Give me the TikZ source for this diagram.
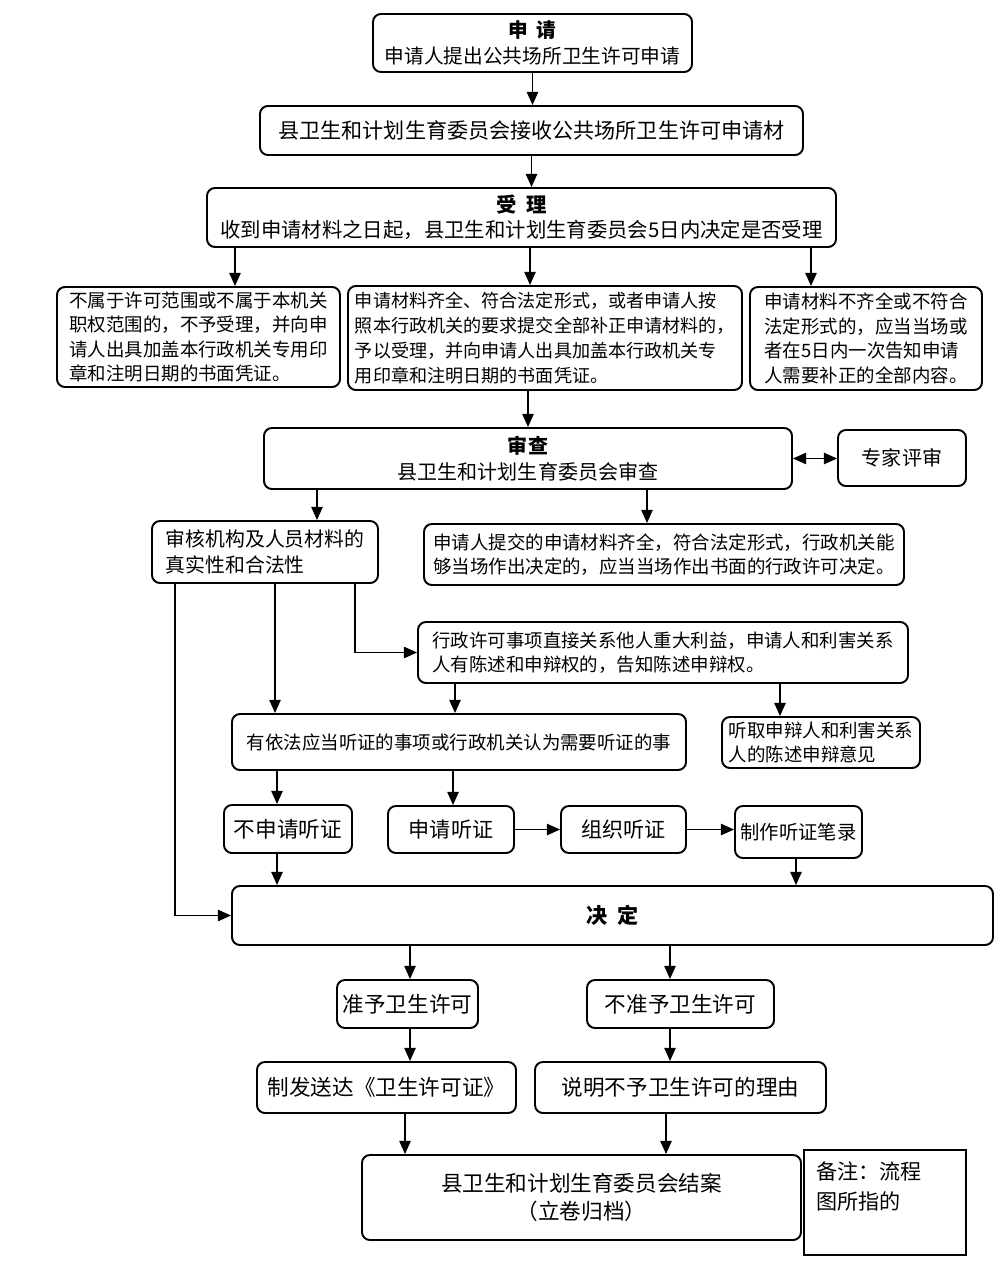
\documentclass[tikz,border=0pt]{standalone}
\usepackage{fontspec}
\setmainfont{Noto Sans CJK SC}
\usetikzlibrary{arrows.meta}
\newcommand\fsz[2]{\fontsize{#1}{#2}\selectfont}
\newcommand\mkbox[7][]{%
  \pgfmathsetmacro\bw{(#5-#3)*0.02}%
  \pgfmathsetmacro\bh{(#6-#4)*0.02}%
  \node[box, minimum width=\bw cm, minimum height=\bh cm, #1] (#2) at ({(#3+#5)/2},{(#4+#6)/2}) {#7};}
\tikzset{
  box/.style={draw, line width=1.1pt, rounded corners=4.5pt, inner sep=0pt, align=center, font=\fsz{12}{14.5}},
  para/.style={align=left, font=\fsz{10.5}{14}},
  arr/.style={line width=0.8pt, -{Triangle[length=7.5pt,width=6.5pt]}},
  darr/.style={line width=0.8pt, {Triangle[length=7.5pt,width=6.5pt]}-{Triangle[length=7.5pt,width=6.5pt]}}
}
\begin{document}
\begin{tikzpicture}[x=0.02cm, y=-0.02cm]
\useasboundingbox (0,0) rectangle (1000,1267);

\mkbox[font=\fsz{11.2}{14.5}]{sq}{373}{14}{692}{72}{\textbf{申\hspace{0.45em}请}\\申请人提出公共场所卫生许可申请}
\mkbox{js}{260}{106}{803}{155}{县卫生和计划生育委员会接收公共场所卫生许可申请材}
\mkbox[font=\fsz{11.6}{14.5}]{sl}{207}{188}{836}{247}{\textbf{受\hspace{0.45em}理}\\收到申请材料之日起，县卫生和计划生育委员会5日内决定是否受理}

\mkbox[para]{bsl}{57}{287}{340}{387}{不属于许可范围或不属于本机关\\职权范围的，不予受理，并向申\\请人出具加盖本行政机关专用印\\章和注明日期的书面凭证。}
\mkbox[para, font=\fsz{10.3}{14.2}]{yysl}{348}{286}{742}{390}{申请材料齐全、符合法定形式，或者申请人按\\照本行政机关的要求提交全部补正申请材料的，\\予以受理，并向申请人出具加盖本行政机关专\\用印章和注明日期的书面凭证。}
\mkbox[para]{bqq}{750}{287}{982}{390}{申请材料不齐全或不符合\\法定形式的，应当当场或\\者在5日内一次告知申请\\人需要补正的全部内容。}

\mkbox[font=\fsz{11.4}{14.5}]{sc}{264}{428}{792}{489}{\textbf{审查}\\县卫生和计划生育委员会审查}
\mkbox[font=\fsz{11.4}{14.5}]{zj}{838}{430}{966}{486}{专家评审}

\mkbox[align=left, font=\fsz{11.3}{14.5}]{sh}{152}{521}{378}{583}{审核机构及人员材料的\\真实性和合法性}
\mkbox[para]{tj}{424}{524}{904}{585}{申请人提交的申请材料齐全，符合法定形式，行政机关能\\够当场作出决定的，应当当场作出书面的行政许可决定。}
\mkbox[para]{xz}{418}{622}{908}{683}{行政许可事项直接关系他人重大利益，申请人和利害关系\\人有陈述和申辩权的，告知陈述申辩权。}

\mkbox[font=\fsz{10.5}{14}]{yy}{232}{714}{686}{770}{有依法应当听证的事项或行政机关认为需要听证的事}
\mkbox[para]{tq}{722}{717}{920}{768}{听取申辩人和利害关系\\人的陈述申辩意见}

\mkbox[font=\fsz{12.3}{15}]{bsq}{224}{805}{352}{853}{不申请听证}
\mkbox[font=\fsz{12}{15}]{sqt}{388}{806}{514}{853}{申请听证}
\mkbox[font=\fsz{12}{15}]{zz}{561}{806}{686}{853}{组织听证}
\mkbox[font=\fsz{11}{15}]{zb}{735}{806}{862}{858}{制作听证笔录}

\mkbox{jd}{232}{886}{993}{945}{\textbf{决\hspace{0.45em}定}}

\mkbox[font=\fsz{12.3}{15}]{zy}{337}{980}{478}{1028}{准予卫生许可}
\mkbox[font=\fsz{12.3}{15}]{bzy}{587}{980}{774}{1028}{不准予卫生许可}
\mkbox[font=\fsz{12.3}{15}]{zf}{257}{1062}{516}{1113}{制发送达《卫生许可证》}
\mkbox[font=\fsz{12.3}{15}]{sm}{535}{1062}{826}{1113}{说明不予卫生许可的理由}
\mkbox[font=\fsz{12.3}{16}]{ja}{362}{1155}{801}{1240}{县卫生和计划生育委员会结案\\（立卷归档）}

\mkbox[rounded corners=0pt, line width=1pt]{bz}{804}{1150}{966}{1255}{}
\node[anchor=north west, align=left, inner sep=0pt, font=\fsz{12}{17}] (bzt) at ([shift={(13,12)}]bz.north west) {备注：流程\\图所指的};

% connectors
\draw[arr] (sq.south) -- (sq.south |- js.north);
\draw[arr] (js.south) -- (js.south |- sl.north);
\draw[arr] (sl.south -| 235,0) -- (bsl.north -| 235,0);
\draw[arr] (sl.south -| 530,0) -- (yysl.north -| 530,0);
\draw[arr] (sl.south -| 811,0) -- (bqq.north -| 811,0);
\draw[arr] (yysl.south -| 528,0) -- (sc.north -| 528,0);
\draw[darr] (sc.east) -- (zj.west |- sc.east);
\draw[arr] (sc.south -| 317,0) -- (sh.north -| 317,0);
\draw[arr] (sc.south -| 647,0) -- (tj.north -| 647,0);
\draw[arr] (sh.south -| 175,0) |- (jd.west);
\draw[arr] (sh.south -| 275,0) -- (yy.north -| 275,0);
\draw[arr] (sh.south -| 355,0) |- (xz.west);
\draw[arr] (xz.south -| 455,0) -- (yy.north -| 455,0);
\draw[arr] (xz.south -| 780,0) -- (tq.north -| 780,0);
\draw[arr] (yy.south -| 277,0) -- (bsq.north -| 277,0);
\draw[arr] (yy.south -| 453,0) -- (sqt.north -| 453,0);
\draw[arr] (sqt.east) -- (zz.west);
\draw[arr] (zz.east) -- (zz.east -| zb.west);
\draw[arr] (bsq.south -| 277,0) -- (jd.north -| 277,0);
\draw[arr] (zb.south -| 796,0) -- (jd.north -| 796,0);
\draw[arr] (jd.south -| 410,0) -- (zy.north -| 410,0);
\draw[arr] (jd.south -| 670,0) -- (bzy.north -| 670,0);
\draw[arr] (zy.south -| 410,0) -- (zf.north -| 410,0);
\draw[arr] (bzy.south -| 670,0) -- (sm.north -| 670,0);
\draw[arr] (zf.south -| 405,0) -- (ja.north -| 405,0);
\draw[arr] (sm.south -| 666,0) -- (ja.north -| 666,0);
\end{tikzpicture}
\end{document}
